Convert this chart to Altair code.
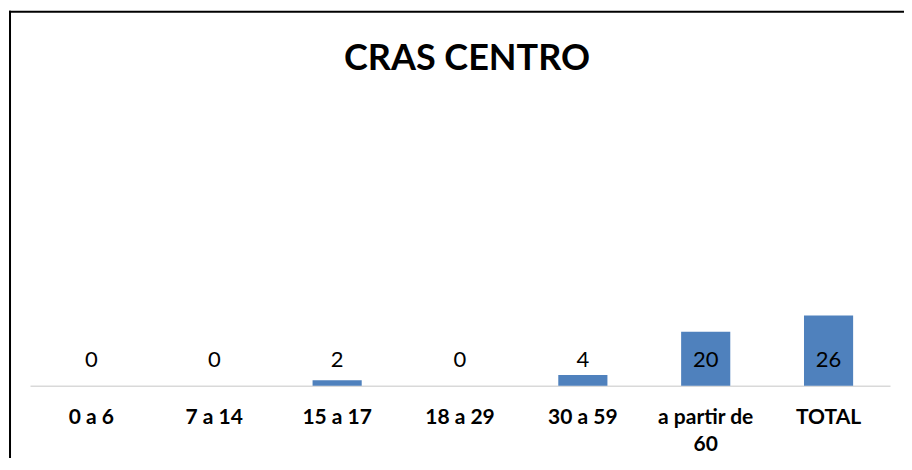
import altair as alt
import pandas as pd

categories = ["0 a 6", "7 a 14", "15 a 17", "18 a 29", "30 a 59", "a partir de 60", "TOTAL"]
values = [0, 0, 2, 0, 4, 20, 26]

df = pd.DataFrame({"faixa": categories, "valor": values})

W, H = 860, 285.7

x_enc = alt.X(
    "faixa:N",
    sort=categories,
    scale=alt.Scale(paddingInner=0.6, paddingOuter=0.3),
    axis=alt.Axis(
        title=None,
        ticks=False,
        tickSize=0,
        grid=False,
        domainColor="#D9D9D9",
        domainWidth=1.5,
        labelFont="Lato",
        labelFontWeight="bold",
        labelFontSize=21,
        labelColor="#000000",
        labelAngle=0,
        labelBaseline="top",
        labelPadding=21,
        labelLineHeight=27,
        labelExpr="datum.value == 'a partir de 60' ? ['a partir de', '60'] : datum.label",
    ),
)
y_scale = alt.Scale(domain=[0, 106], nice=False)

base = alt.Chart(df)

bars = base.mark_bar(color="#4F81BD").encode(
    x=x_enc,
    y=alt.Y("valor:Q", scale=y_scale, axis=None),
)

labels = base.mark_text(
    font="Lato", fontSize=22, color="#000000", baseline="middle", align="center", dy=-26
).encode(
    x=alt.X("faixa:N", sort=categories),
    y=alt.datum(0),
    text=alt.Text("valor:Q"),
)

one = alt.Data(values=[{}])
frame_top = alt.Chart(one).mark_rule(color="#000000", strokeWidth=2).encode(
    x=alt.value(-21), x2=alt.value(874), y=alt.value(-88.3)
)
frame_left = alt.Chart(one).mark_rule(color="#000000", strokeWidth=2).encode(
    x=alt.value(-20), y=alt.value(-89.3), y2=alt.value(358)
)

chart = alt.layer(frame_top, frame_left, bars, labels).properties(
    width=W,
    height=H,
    title=alt.TitleParams(
        "CRAS CENTRO",
        font="Lato",
        fontSize=36,
        fontWeight="bold",
        color="#000000",
        anchor="middle",
        frame="group",
        baseline="alphabetic",
        offset=-96,
        dx=7,
    ),
    autosize=alt.AutoSizeParams(type="none"),
    padding={"left": 22, "top": 92, "right": 14, "bottom": 72},
    background="white",
).configure_view(strokeWidth=0, stroke="transparent")

chart.save("out.html", embed_options={"renderer": "svg", "actions": False})
